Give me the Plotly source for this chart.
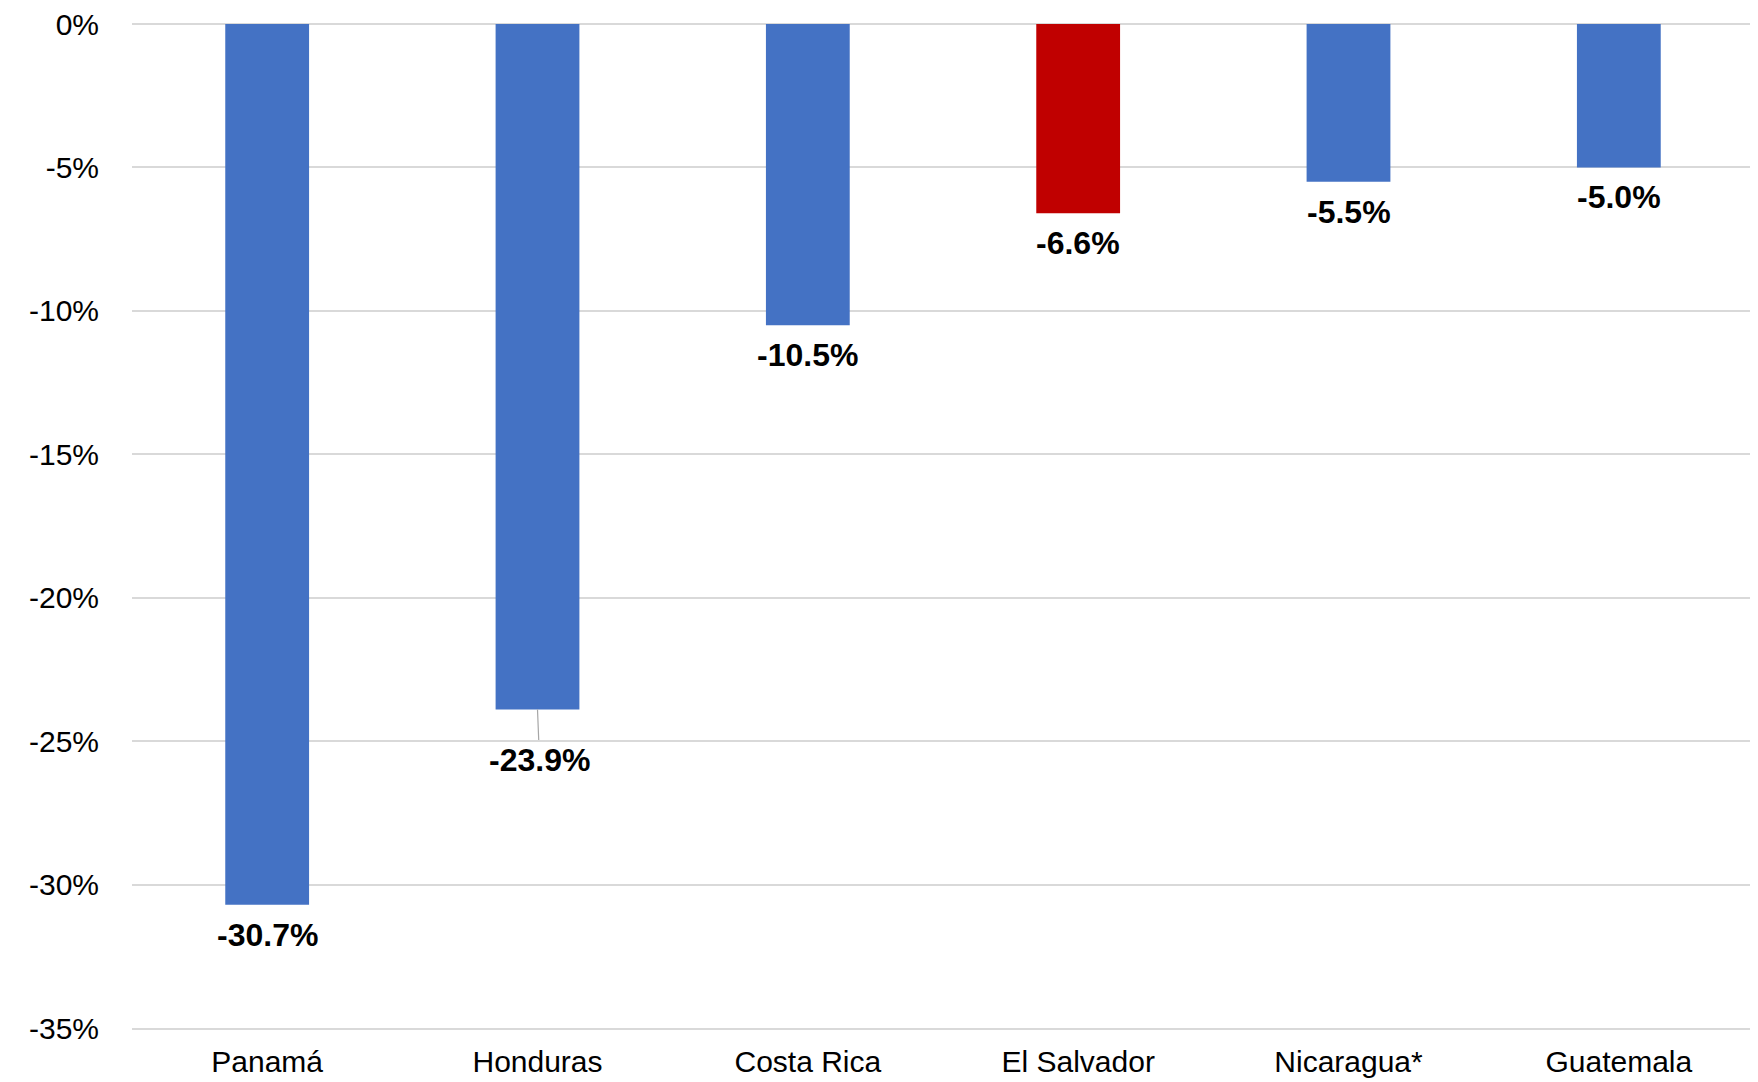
import plotly.graph_objects as go

countries = ["Panamá", "Honduras", "Costa Rica", "El Salvador", "Nicaragua*", "Guatemala"]
values = [-30.7, -23.9, -10.5, -6.6, -5.5, -5.0]
bar_colors = ["#4472C4", "#4472C4", "#4472C4", "#C00000", "#4472C4", "#4472C4"]
y_ticks = [0, -5, -10, -15, -20, -25, -30, -35]
y_tick_labels = ["0%", "-5%", "-10%", "-15%", "-20%", "-25%", "-30%", "-35%"]

fig = go.Figure()
fig.add_trace(go.Bar(
    x=countries, y=values, marker=dict(color=bar_colors, line=dict(width=0)),
    width=0.31, hoverinfo="skip",
))

lab_font = dict(size=32, color="black", family="Liberation Sans, Arial")
for c, v in zip(countries, values):
    if c == "Honduras":
        fig.add_annotation(
            x=c, y=v, text=f"<b>{v:.1f}%</b>", showarrow=True, arrowhead=0,
            arrowwidth=1.2, arrowcolor="#A6A6A6", ax=2, ay=50, standoff=0,
            font=lab_font,
        )
    else:
        fig.add_annotation(
            x=c, y=v, text=f"<b>{v:.1f}%</b>", showarrow=False, yshift=-30,
            font=lab_font,
        )

# page body adds an 8px offset; size the figure so the plot lands where the reference has it
fig.update_layout(
    width=1750, height=1075,
    margin=dict(l=124, r=4, t=16, b=55),
    paper_bgcolor="white", plot_bgcolor="white",
    showlegend=False,
    font=dict(family="Liberation Sans, Arial", color="black"),
)
fig.update_xaxes(
    showgrid=False, showline=True, linecolor="#D9D9D9", linewidth=1.5,
    tickfont=dict(size=30), ticklabelstandoff=6, ticks="", automargin=False,
)
fig.update_yaxes(
    range=[-35, 0], tickvals=y_ticks, ticktext=y_tick_labels,
    showgrid=True, gridcolor="#D9D9D9", gridwidth=1.5,
    zeroline=True, zerolinecolor="#D9D9D9", zerolinewidth=1.5,
    tickfont=dict(size=30), ticklabelstandoff=32, ticks="", automargin=False,
    ticklabeloverflow="allow",
)

fig.write_html("out.html")
